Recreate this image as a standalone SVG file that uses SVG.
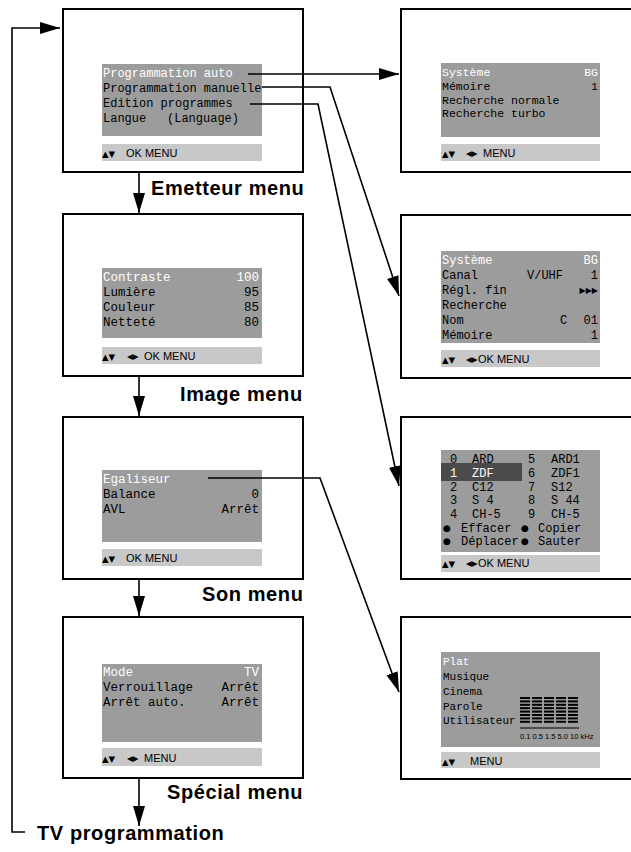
<svg xmlns="http://www.w3.org/2000/svg" width="631" height="852" viewBox="0 0 631 852">
<style>
.scr{fill:#fff;stroke:#000;stroke-width:2}
.pan{fill:#9c9c9c}
.foot{fill:#c8c8c8}
.t{font-family:"Liberation Mono","DejaVu Sans Mono",monospace;font-size:12.5px;fill:#000}
.s{font-size:11.5px}
.m{font-size:12px}
.x{font-size:11px}
.w{fill:#fff}
.e{text-anchor:end}
.sym{font-family:"DejaVu Sans",sans-serif;font-size:8.5px;fill:#000}
.lr{font-family:"DejaVu Sans",sans-serif;font-size:7.5px;fill:#000}
.ft{font-family:"Liberation Sans",Arial,sans-serif;font-size:11px;fill:#000}
.lbl{font-family:"Liberation Sans",Arial,sans-serif;font-weight:bold;font-size:20px;letter-spacing:0.6px;fill:#000}
.c{fill:none;stroke:#000;stroke-width:1.6}
</style>
<defs>
<marker id="ah" markerUnits="userSpaceOnUse" markerWidth="22" markerHeight="14" refX="20" refY="6" orient="auto">
<path d="M0,0 L20,6 L0,12 z" fill="#000"/>
</marker>
</defs>

<g id="emetteur">
<rect class="scr" x="63" y="9" width="240" height="163"/>
<rect class="pan" x="102" y="64" width="160" height="72"/>
<rect class="foot" x="102" y="144" width="160" height="17"/>
<text class="t m w" x="103" y="77">Programmation auto</text>
<text class="t m" x="103" y="92">Programmation manuelle</text>
<text class="t m" x="103" y="107">Edition programmes</text>
<text class="t m" x="103" y="122">Langue</text>
<text class="t m" x="167" y="122">(Language)</text>
<text class="sym" x="102" y="157">▲▼</text>
<text class="ft" x="126" y="157">OK MENU</text>
</g>

<g id="image">
<rect class="scr" x="63" y="214" width="240" height="162"/>
<rect class="pan" x="102" y="268" width="160" height="70"/>
<rect class="foot" x="102" y="347" width="160" height="17"/>
<text class="t w" x="103" y="281">Contraste</text><text class="t w e" x="259" y="281">100</text>
<text class="t" x="103" y="296">Lumière</text><text class="t e" x="259" y="296">95</text>
<text class="t" x="103" y="311">Couleur</text><text class="t e" x="259" y="311">85</text>
<text class="t" x="103" y="326">Netteté</text><text class="t e" x="259" y="326">80</text>
<text class="sym" x="102" y="360">▲▼</text>
<text class="lr" x="127" y="359">◀▶</text>
<text class="ft" x="144" y="360">OK MENU</text>
</g>

<g id="son">
<rect class="scr" x="63" y="417" width="240" height="162"/>
<rect class="pan" x="102" y="470" width="160" height="72"/>
<rect class="foot" x="102" y="549" width="160" height="17"/>
<text class="t w" x="103" y="483">Egaliseur</text>
<text class="t" x="103" y="498">Balance</text><text class="t e" x="259" y="498">0</text>
<text class="t" x="103" y="513">AVL</text><text class="t e" x="259" y="513">Arrêt</text>
<text class="sym" x="102" y="562">▲▼</text>
<text class="ft" x="126" y="562">OK MENU</text>
</g>

<g id="special">
<rect class="scr" x="63" y="617" width="240" height="161"/>
<rect class="pan" x="102" y="664" width="160" height="78"/>
<rect class="foot" x="102" y="748" width="160" height="18"/>
<text class="t w" x="103" y="676">Mode</text><text class="t w e" x="259" y="676">TV</text>
<text class="t" x="103" y="691">Verrouillage</text><text class="t e" x="259" y="691">Arrêt</text>
<text class="t" x="103" y="706">Arrêt auto.</text><text class="t e" x="259" y="706">Arrêt</text>
<text class="sym" x="102" y="762">▲▼</text>
<text class="lr" x="127" y="761">◀▶</text>
<text class="ft" x="144" y="762">MENU</text>
</g>

<g id="auto">
<rect class="scr" x="401" y="9" width="240" height="163"/>
<rect class="pan" x="441" y="63" width="159" height="74"/>
<rect class="foot" x="441" y="144" width="159" height="17"/>
<text class="t s w" x="442" y="76">Système</text><text class="t s w e" x="598" y="76">BG</text>
<text class="t s" x="442" y="90">Mémoire</text><text class="t s e" x="598" y="90">1</text>
<text class="t s" x="442" y="104">Recherche normale</text>
<text class="t s" x="442" y="117">Recherche turbo</text>
<text class="sym" x="442" y="157">▲▼</text>
<text class="lr" x="466" y="156">◀▶</text>
<text class="ft" x="483" y="157">MENU</text>
</g>

<g id="manuelle">
<rect class="scr" x="401" y="215" width="240" height="163"/>
<rect class="pan" x="441" y="251" width="159" height="92"/>
<rect class="foot" x="441" y="350" width="159" height="17"/>
<text class="t m w" x="442" y="264">Système</text><text class="t m w e" x="598" y="264">BG</text>
<text class="t m" x="442" y="279">Canal</text><text class="t m" x="527" y="279">V/UHF</text><text class="t m e" x="598" y="279">1</text>
<text class="t m" x="442" y="294">Régl. fin</text><text class="lr e" x="598" y="293" style="font-size:8px">▶▶▶</text>
<text class="t m" x="442" y="309">Recherche</text>
<text class="t m" x="442" y="324">Nom</text><text class="t m" x="560" y="324">C</text><text class="t m e" x="598" y="324">01</text>
<text class="t m" x="442" y="339">Mémoire</text><text class="t m e" x="598" y="339">1</text>
<text class="sym" x="442" y="363">▲▼</text>
<text class="lr" x="466" y="362">◀▶</text>
<text class="ft" x="478" y="363">OK MENU</text>
</g>

<g id="edition">
<rect class="scr" x="401" y="417" width="240" height="162"/>
<rect class="pan" x="441" y="450" width="159" height="102"/>
<rect x="441" y="463" width="81" height="18" fill="#4a4a4a"/>
<rect class="foot" x="441" y="555" width="159" height="17"/>
<text class="t m" x="450" y="463">0</text><text class="t m" x="472" y="463">ARD</text><text class="t m" x="528" y="463">5</text><text class="t m" x="551" y="463">ARD1</text>
<text class="t m w" x="450" y="477">1</text><text class="t m w" x="472" y="477">ZDF</text><text class="t m" x="528" y="477">6</text><text class="t m" x="551" y="477">ZDF1</text>
<text class="t m" x="450" y="491">2</text><text class="t m" x="472" y="491">C12</text><text class="t m" x="528" y="491">7</text><text class="t m" x="551" y="491">S12</text>
<text class="t m" x="450" y="504">3</text><text class="t m" x="472" y="504">S 4</text><text class="t m" x="528" y="504">8</text><text class="t m" x="551" y="504">S 44</text>
<text class="t m" x="450" y="518">4</text><text class="t m" x="472" y="518">CH-5</text><text class="t m" x="528" y="518">9</text><text class="t m" x="551" y="518">CH-5</text>
<text class="sym" x="443" y="531" style="font-size:9px">●</text><text class="t m" x="461" y="532">Effacer</text><text class="sym" x="521" y="531" style="font-size:9px">●</text><text class="t m" x="538" y="532">Copier</text>
<text class="sym" x="443" y="544" style="font-size:9px">●</text><text class="t m" x="461" y="545">Déplacer</text><text class="sym" x="521" y="544" style="font-size:9px">●</text><text class="t m" x="538" y="545">Sauter</text>
<text class="sym" x="442" y="567">▲▼</text>
<text class="lr" x="466" y="566">◀▶</text>
<text class="ft" x="478" y="567">OK MENU</text>
</g>

<g id="egaliseur">
<rect class="scr" x="401" y="617" width="240" height="162"/>
<rect class="pan" x="441" y="652" width="159" height="95"/>
<rect class="foot" x="441" y="752" width="159" height="16"/>
<text class="t x w" x="443" y="665">Plat</text>
<text class="t x" x="443" y="680">Musique</text>
<text class="t x" x="443" y="695">Cinema</text>
<text class="t x" x="443" y="710">Parole</text>
<text class="t x" x="443" y="724">Utilisateur</text>
<g fill="#000">
<rect x="520" y="697" width="10" height="2"/><rect x="532" y="697" width="10" height="2"/><rect x="544" y="697" width="10" height="2"/><rect x="556" y="697" width="10" height="2"/><rect x="568" y="697" width="10" height="2"/>
<rect x="520" y="700.4" width="10" height="2"/><rect x="532" y="700.4" width="10" height="2"/><rect x="544" y="700.4" width="10" height="2"/><rect x="556" y="700.4" width="10" height="2"/><rect x="568" y="700.4" width="10" height="2"/>
<rect x="520" y="703.8" width="10" height="2"/><rect x="532" y="703.8" width="10" height="2"/><rect x="544" y="703.8" width="10" height="2"/><rect x="556" y="703.8" width="10" height="2"/><rect x="568" y="703.8" width="10" height="2"/>
<rect x="520" y="707.2" width="10" height="2"/><rect x="532" y="707.2" width="10" height="2"/><rect x="544" y="707.2" width="10" height="2"/><rect x="556" y="707.2" width="10" height="2"/><rect x="568" y="707.2" width="10" height="2"/>
<rect x="520" y="710.6" width="10" height="2"/><rect x="532" y="710.6" width="10" height="2"/><rect x="544" y="710.6" width="10" height="2"/><rect x="556" y="710.6" width="10" height="2"/><rect x="568" y="710.6" width="10" height="2"/>
<rect x="520" y="714" width="10" height="2"/><rect x="532" y="714" width="10" height="2"/><rect x="544" y="714" width="10" height="2"/><rect x="556" y="714" width="10" height="2"/><rect x="568" y="714" width="10" height="2"/>
<rect x="520" y="717.4" width="10" height="2"/><rect x="532" y="717.4" width="10" height="2"/><rect x="544" y="717.4" width="10" height="2"/><rect x="556" y="717.4" width="10" height="2"/><rect x="568" y="717.4" width="10" height="2"/>
<rect x="520" y="720.8" width="10" height="2"/><rect x="532" y="720.8" width="10" height="2"/><rect x="544" y="720.8" width="10" height="2"/><rect x="556" y="720.8" width="10" height="2"/><rect x="568" y="720.8" width="10" height="2"/>
</g>
<line x1="520" y1="728" x2="579" y2="728" stroke="#000" stroke-width="1"/>
<text x="520" y="739" style="font-family:'Liberation Sans',Arial,sans-serif;font-size:7.5px;fill:#000">0.1 0.5 1.5 5.0 10 kHz</text>
<text class="sym" x="442" y="765">▲▼</text>
<text class="ft" x="470" y="765">MENU</text>
</g>

<g id="labels">
<text class="lbl" x="151" y="195">Emetteur menu</text>
<text class="lbl" x="180" y="401">Image menu</text>
<text class="lbl" x="202" y="601">Son menu</text>
<text class="lbl" x="167" y="799">Spécial menu</text>
<text class="lbl" x="37" y="840">TV programmation</text>
</g>

<g id="connectors">
<polyline class="c" points="25,832 12,832 12,28 60,28" marker-end="url(#ah)"/>
<line class="c" x1="139" y1="172" x2="139" y2="213" marker-end="url(#ah)"/>
<line class="c" x1="139" y1="376" x2="139" y2="416" marker-end="url(#ah)"/>
<line class="c" x1="139" y1="579" x2="139" y2="616" marker-end="url(#ah)"/>
<line class="c" x1="139" y1="778" x2="139" y2="826" marker-end="url(#ah)"/>
<line class="c" x1="248" y1="74" x2="399" y2="74" marker-end="url(#ah)"/>
<polyline class="c" points="262,87 330,87 399,296" marker-end="url(#ah)"/>
<polyline class="c" points="250,104 318,104 399,486" marker-end="url(#ah)"/>
<polyline class="c" points="208,478 320,478 399,692" marker-end="url(#ah)"/>
</g>
</svg>
